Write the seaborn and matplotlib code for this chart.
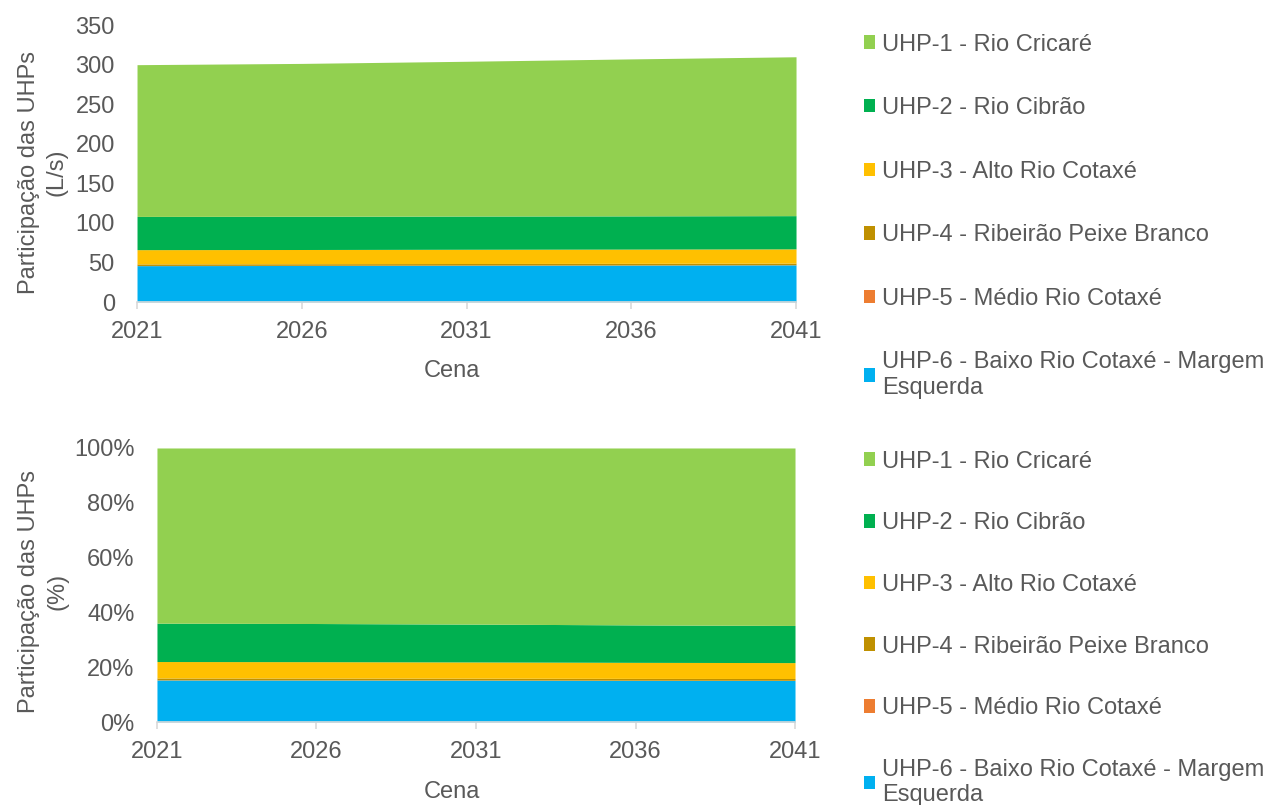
import numpy as np
import pandas as pd
import seaborn as sns
import matplotlib.pyplot as plt
from matplotlib.patches import Patch
from matplotlib.ticker import PercentFormatter

anos = [2021, 2026, 2031, 2036, 2041]
uhp1 = [191.8, 193.2, 195.6, 198.4, 200.8]
uhp2 = [42.0, 42.0, 42.0, 42.0, 42.0]
uhp3 = [18.0, 18.0, 18.0, 18.0, 18.0]
uhp4 = [2.0, 2.0, 2.0, 2.0, 2.0]
uhp5 = [0.2, 0.2, 0.2, 0.2, 0.2]
uhp6 = [46.0, 46.2, 46.5, 46.7, 47.0]

nomes = ['UHP-1 - Rio Cricaré', 'UHP-2 - Rio Cibrão', 'UHP-3 - Alto Rio Cotaxé',
         'UHP-4 - Ribeirão Peixe Branco', 'UHP-5 - Médio Rio Cotaxé',
         'UHP-6 - Baixo Rio Cotaxé - Margem\nEsquerda']
cores = ['#92D050', '#00B050', '#FFC000', '#BF9000', '#ED7D31', '#00B0F0']

df = pd.DataFrame({nomes[0]: uhp1, nomes[1]: uhp2, nomes[2]: uhp3,
                   nomes[3]: uhp4, nomes[4]: uhp5, nomes[5]: uhp6}, index=anos)
pct = df.div(df.sum(axis=1), axis=0) * 100

sns.set_theme(style='white')
plt.rcParams['font.family'] = ['Liberation Sans', 'DejaVu Sans']
cinza = '#595959'
fs = 17

fig = plt.figure(figsize=(12.71, 8.05), dpi=100)
ax1 = fig.add_axes([0.1078, 0.6248, 0.5185, 0.344])
ax2 = fig.add_axes([0.1235, 0.1031, 0.5020, 0.3404])

# empilhar de baixo (UHP-6) para cima (UHP-1)
ordem = nomes[::-1]
cores_ordem = cores[::-1]

conf = [
    (ax1, df, 'Participação das UHPs\n(L/s)', 350, np.arange(0, 351, 50), -0.105, 0.469, 0.478, -0.21),
    (ax2, pct, 'Participação das UHPs\n(%)', 100, np.arange(0, 101, 20), -0.139, 0.478, 0.462, -0.215),
]
for ax, dados, ylab, ylim, yt, ylx, yly, xlx, xly in conf:
    ax.stackplot(dados.index, [dados[c].values for c in ordem],
                 colors=cores_ordem, linewidth=0)
    ax.set_xlim(2021, 2041)
    ax.set_ylim(0, ylim)
    ax.set_xticks(anos)
    ax.set_yticks(yt)
    sns.despine(ax=ax, left=True, right=True, top=True)
    ax.spines['bottom'].set_color('#D9D9D9')
    ax.spines['bottom'].set_linewidth(1.2)
    ax.tick_params(axis='x', colors='#D9D9D9', labelcolor=cinza, labelsize=fs,
                   length=5, width=1.2, pad=9, bottom=True, direction='out')
    ax.tick_params(axis='y', labelcolor=cinza, labelsize=fs, length=0, pad=16)
    ax.set_xlabel('Cena', fontsize=fs, color=cinza)
    ax.set_ylabel(ylab, fontsize=fs, color=cinza, linespacing=1.35)
    ax.yaxis.set_label_coords(ylx, yly)
    ax.xaxis.set_label_coords(xlx, xly)
    ax.grid(False)

ax2.yaxis.set_major_formatter(PercentFormatter(decimals=0))

handles = [Patch(facecolor=c, edgecolor='none') for c in cores]
for y, esp in [(0.970, 1.76), (0.452, 1.68)]:
    fig.legend(handles, nomes, loc='upper left', bbox_to_anchor=(0.672, y),
               frameon=False, fontsize=fs, labelcolor=cinza,
               handlelength=0.5, handleheight=0.5, handletextpad=0.3,
               labelspacing=esp, borderaxespad=0)

fig.savefig('out.png', dpi=100)
